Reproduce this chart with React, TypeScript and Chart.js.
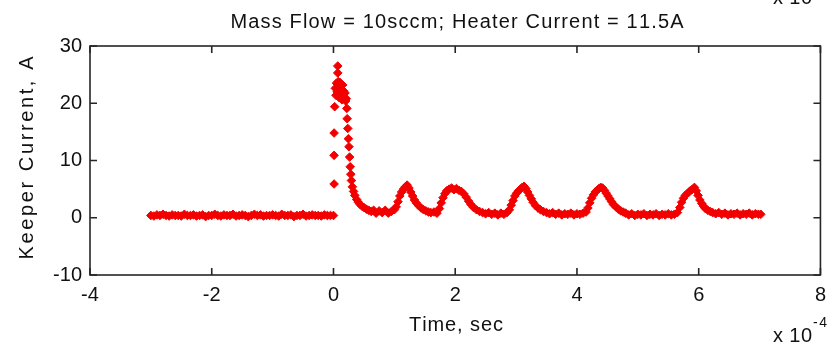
import { useEffect, useRef } from 'react';
import { Chart, registerables } from 'chart.js';

Chart.register(...registerables);

// ---------------- text ----------------
const chartTitle = 'Mass Flow = 10sccm; Heater Current = 11.5A';
const xAxisTitle = 'Time, sec';
const yAxisTitle = 'Keeper Current, A';
const xExponentBase = 'x 10';
const xExponentPower = '-4';

// ---------------- ticks ----------------
const xTickValues = [-4, -2, 0, 2, 4, 6, 8];
const yTickValues = [-10, 0, 10, 20, 30];

// ---------------- data (time in units of 1e-4 s, current in A) ----------------
const preTriggerTime = [
  -3.0, -2.95, -2.9, -2.85, -2.8, -2.75, -2.7, -2.65, -2.6, -2.55,
  -2.5, -2.45, -2.4, -2.35, -2.3, -2.25, -2.2, -2.15, -2.1, -2.05,
  -2.0, -1.95, -1.9, -1.85, -1.8, -1.75, -1.7, -1.65, -1.6, -1.55,
  -1.5, -1.45, -1.4, -1.35, -1.3, -1.25, -1.2, -1.15, -1.1, -1.05,
  -1.0, -0.95, -0.9, -0.85, -0.8, -0.75, -0.7, -0.65, -0.6, -0.55,
  -0.5, -0.45, -0.4, -0.35, -0.3, -0.25, -0.2, -0.15, -0.1, -0.05,
  0.0,
];
const preTriggerCurrent = [
  0.4, 0.3, 0.5, 0.4, 0.6, 0.4, 0.3, 0.5, 0.4, 0.4,
  0.3, 0.6, 0.4, 0.4, 0.5, 0.3, 0.4, 0.5, 0.2, 0.4,
  0.4, 0.6, 0.4, 0.3, 0.5, 0.4, 0.4, 0.6, 0.3, 0.4,
  0.5, 0.4, 0.2, 0.4, 0.6, 0.4, 0.5, 0.3, 0.4, 0.4,
  0.5, 0.4, 0.3, 0.6, 0.4, 0.4, 0.5, 0.2, 0.4, 0.4,
  0.6, 0.3, 0.4, 0.5, 0.4, 0.4, 0.3, 0.5, 0.4, 0.4,
  0.4,
];

const spikeTime = [
  0.01, 0.01, 0.01, 0.02, 0.03, 0.04, 0.05, 0.06, 0.07, 0.07,
  0.08, 0.09, 0.1, 0.11, 0.12, 0.13, 0.14, 0.15, 0.16, 0.17,
  0.18, 0.19, 0.2,
];
const spikeCurrent = [
  5.9, 10.9, 14.8, 19.4, 22.6, 21.4, 23.5, 22.0, 26.5, 25.3,
  23.8, 21.0, 22.9, 23.6, 21.8, 22.5, 20.6, 23.2, 21.5, 22.1,
  20.9, 21.8, 20.4,
];

const decayTime = [
  0.21, 0.22, 0.225, 0.235, 0.245, 0.255, 0.265, 0.275, 0.285, 0.295,
  0.31, 0.33, 0.35, 0.38, 0.41, 0.44, 0.47, 0.5, 0.54, 0.58,
  0.62, 0.66, 0.7, 0.75, 0.8, 0.85, 0.9, 0.95, 1.0,
];
const decayCurrent = [
  20.8, 19.1, 17.3, 15.6, 13.8, 12.4, 10.6, 8.9, 7.6, 6.5,
  5.4, 4.6, 3.9, 3.2, 2.7, 2.3, 2.0, 1.8, 1.5, 1.3,
  1.1, 1.3, 0.8, 1.2, 0.9, 1.3, 0.8, 1.1, 1.4,
];

const pulse1Time = [
  1.03, 1.06, 1.09, 1.12, 1.15, 1.18, 1.21, 1.24, 1.27, 1.3,
  1.33, 1.36, 1.4, 1.44, 1.48, 1.52, 1.56, 1.6, 1.65, 1.7,
];
const pulse1Current = [
  1.9, 2.8, 3.8, 4.5, 5.0, 5.4, 5.7, 5.2, 4.5, 3.8,
  3.1, 2.6, 2.1, 1.7, 1.4, 1.2, 1.0, 0.9, 1.0, 0.8,
];

const pulse2Time = [
  1.74, 1.77, 1.8, 1.83, 1.86, 1.9, 1.94, 1.98, 2.02, 2.06,
  2.1, 2.14, 2.18, 2.22, 2.26, 2.3, 2.35, 2.4, 2.45, 2.5,
  2.55, 2.6, 2.65, 2.7, 2.75, 2.8, 2.85,
];
const pulse2Current = [
  1.6, 2.6, 3.5, 4.2, 4.7, 5.0, 5.2, 4.9, 5.1, 4.8,
  4.6, 4.2, 3.6, 2.9, 2.3, 1.8, 1.4, 1.1, 0.9, 0.7,
  0.9, 0.6, 0.8, 0.5, 0.8, 0.6, 0.9,
];

const pulse3Time = [
  2.89, 2.92, 2.95, 2.98, 3.01, 3.04, 3.07, 3.1, 3.13, 3.16,
  3.19, 3.22, 3.25, 3.28, 3.32, 3.36, 3.4, 3.45, 3.5, 3.55,
  3.6, 3.65, 3.7, 3.75, 3.8, 3.85, 3.9, 3.95, 4.0, 4.05,
  4.1, 4.15,
];
const pulse3Current = [
  1.4, 2.2, 3.0, 3.8, 4.3, 4.7, 5.0, 5.3, 5.5, 5.1,
  4.5, 3.9, 3.3, 2.7, 2.1, 1.7, 1.4, 1.1, 0.9, 0.7,
  0.9, 0.6, 0.8, 0.5, 0.7, 0.6, 0.8, 0.5, 0.7, 0.6,
  0.8, 1.0,
];

const pulse4Time = [
  4.18, 4.21, 4.24, 4.27, 4.3, 4.33, 4.36, 4.39, 4.42, 4.45,
  4.48, 4.51, 4.54, 4.57, 4.6, 4.64, 4.68, 4.72, 4.76, 4.8,
  4.85, 4.9, 4.95, 5.0, 5.05, 5.1, 5.15, 5.2, 5.25, 5.3,
  5.35, 5.4, 5.45, 5.5, 5.55, 5.6, 5.65,
];
const pulse4Current = [
  1.7, 2.6, 3.4, 4.0, 4.5, 4.8, 5.1, 5.3, 5.2, 4.8,
  4.3, 3.8, 3.3, 2.8, 2.3, 1.9, 1.5, 1.2, 1.0, 0.8,
  0.5, 0.7, 0.4, 0.6, 0.5, 0.7, 0.4, 0.6, 0.5, 0.7,
  0.4, 0.6, 0.5, 0.7, 0.5, 0.6, 0.9,
];

const pulse5Time = [
  5.69, 5.72, 5.75, 5.78, 5.81, 5.84, 5.87, 5.9, 5.93, 5.96,
  5.99, 6.02, 6.05, 6.08, 6.11, 6.15, 6.19, 6.23, 6.28, 6.33,
  6.38, 6.43, 6.48, 6.53, 6.58, 6.63, 6.68, 6.73, 6.78, 6.83,
  6.88, 6.93, 6.98, 7.02,
];
const pulse5Current = [
  1.8, 2.7, 3.4, 3.9, 4.2, 4.5, 4.8, 5.0, 5.3, 4.7,
  3.9, 3.1, 2.5, 2.0, 1.6, 1.3, 1.1, 0.9, 0.7, 0.9,
  0.6, 0.8, 0.5, 0.7, 0.6, 0.8, 0.5, 0.7, 0.6, 0.8,
  0.5, 0.7, 0.6, 0.6,
];

const segments: [number[], number[]][] = [
  [preTriggerTime, preTriggerCurrent],
  [spikeTime, spikeCurrent],
  [decayTime, decayCurrent],
  [pulse1Time, pulse1Current],
  [pulse2Time, pulse2Current],
  [pulse3Time, pulse3Current],
  [pulse4Time, pulse4Current],
  [pulse5Time, pulse5Current],
];

// ---------------- style ----------------
const FONT = '"Liberation Sans", Arial, Helvetica, sans-serif';
const MARKER_RED = '#f20000';
const AXIS_COLOR = '#262626';
const TEXT_COLOR = '#111111';

function drawSpaced(
  ctx: CanvasRenderingContext2D,
  text: string,
  cx: number,
  y: number,
  targetWidth: number,
) {
  const chars = Array.from(text);
  const widths = chars.map((c) => ctx.measureText(c).width);
  const natural = widths.reduce((a, b) => a + b, 0);
  const gap = chars.length > 1 ? (targetWidth - natural) / (chars.length - 1) : 0;
  let x = cx - targetWidth / 2;
  ctx.textAlign = 'left';
  chars.forEach((c, i) => {
    ctx.fillText(c, x, y);
    x += widths[i] + gap;
  });
}

const matlabAxes = {
  id: 'matlabAxes',
  afterDatasetsDraw(chart: any) {
    const { ctx, chartArea: a, scales } = chart;
    ctx.save();
    // box
    ctx.strokeStyle = AXIS_COLOR;
    ctx.lineWidth = 1.6;
    ctx.strokeRect(a.left, a.top, a.right - a.left, a.bottom - a.top);
    // inward ticks on all four sides
    const tl = 7;
    ctx.beginPath();
    xTickValues.forEach((v) => {
      const px = scales.x.getPixelForValue(v);
      ctx.moveTo(px, a.bottom);
      ctx.lineTo(px, a.bottom - tl);
      ctx.moveTo(px, a.top);
      ctx.lineTo(px, a.top + tl);
    });
    yTickValues.forEach((v) => {
      const py = scales.y.getPixelForValue(v);
      ctx.moveTo(a.left, py);
      ctx.lineTo(a.left + tl, py);
      ctx.moveTo(a.right, py);
      ctx.lineTo(a.right - tl, py);
    });
    ctx.stroke();

    // texts
    ctx.fillStyle = TEXT_COLOR;
    ctx.textBaseline = 'alphabetic';
    ctx.font = `20px ${FONT}`;
    drawSpaced(ctx, chartTitle, 457, 28, 453);
    drawSpaced(ctx, xAxisTitle, 456, 331, 94);

    // exponent label (bottom right) and clipped one at the top
    drawSpaced(ctx, xExponentBase, 773 + 39 / 2, 342, 39);
    drawSpaced(ctx, xExponentBase, 773 + 39 / 2, 4, 39);
    ctx.font = `14px ${FONT}`;
    drawSpaced(ctx, xExponentPower, 813 + 14 / 2, 327, 14);

    // y title
    ctx.font = `20px ${FONT}`;
    ctx.translate(33, 158);
    ctx.rotate(-Math.PI / 2);
    drawSpaced(ctx, yAxisTitle, 0, 0, 203);
    ctx.restore();
  },
};

export default function App() {
  const ref = useRef<HTMLCanvasElement>(null);

  useEffect(() => {
    const canvas = ref.current;
    if (!canvas) return;
    const points: { x: number; y: number }[] = [];
    segments.forEach(([ts, vs]) => {
      ts.forEach((t, i) => points.push({ x: t, y: vs[i] }));
    });

    const tickFont = { family: FONT, size: 20 };

    const chart = new Chart(canvas, {
      type: 'scatter',
      data: {
        datasets: [
          {
            data: points,
            pointStyle: 'rectRot',
            pointRadius: 4.3,
            pointBackgroundColor: MARKER_RED,
            pointBorderColor: MARKER_RED,
            pointBorderWidth: 1,
            showLine: false,
          },
        ],
      },
      options: {
        responsive: false,
        animation: false,
        devicePixelRatio: 1,
        layout: { padding: { top: 46, right: 7, left: 0, bottom: 0 } },
        plugins: {
          legend: { display: false },
          tooltip: { enabled: false },
          title: { display: false },
        },
        scales: {
          x: {
            type: 'linear',
            min: -4,
            max: 8,
            afterBuildTicks: (s: any) => {
              s.ticks = xTickValues.map((v) => ({ value: v }));
            },
            afterFit: (s: any) => {
              s.height = 73;
            },
            ticks: {
              font: tickFont,
              color: TEXT_COLOR,
              padding: 8,
              maxRotation: 0,
              autoSkip: false,
              callback: (v: any) => String(v),
            },
            grid: { display: false, drawTicks: false },
            border: { display: false },
          },
          y: {
            type: 'linear',
            min: -10,
            max: 30,
            afterBuildTicks: (s: any) => {
              s.ticks = yTickValues.map((v) => ({ value: v }));
            },
            afterFit: (s: any) => {
              s.width = 90;
            },
            ticks: {
              font: tickFont,
              color: TEXT_COLOR,
              padding: 8,
              autoSkip: false,
              callback: (v: any) => String(v),
            },
            grid: { display: false, drawTicks: false },
            border: { display: false },
          },
        },
      },
      plugins: [matlabAxes],
    } as any);

    return () => chart.destroy();
  }, []);

  return (
    <div
      style={{
        position: 'absolute',
        left: 0,
        top: 0,
        width: 834,
        height: 348,
        background: '#ffffff',
      }}
    >
      <canvas ref={ref} width={834} height={348} style={{ display: 'block' }} />
    </div>
  );
}
